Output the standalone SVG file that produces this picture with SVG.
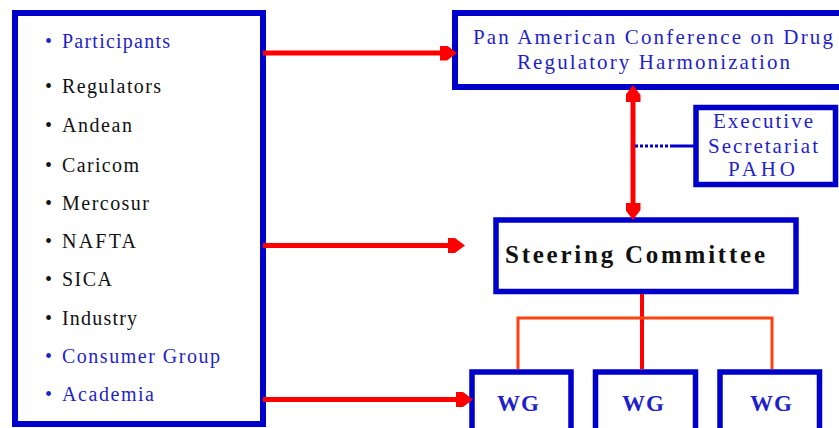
<svg xmlns="http://www.w3.org/2000/svg" width="839" height="428" viewBox="0 0 839 428">
<style>
.box{fill:#ffffff;stroke:#0000cc;stroke-width:6}
.item{font-family:"Liberation Serif","Times New Roman",serif;font-size:20px;fill:#111111}
.blue{fill:#1f1fcc}
.title{font-family:"Liberation Serif","Times New Roman",serif;font-size:21px;fill:#1f1fcc}
.bold{font-family:"Liberation Serif","Times New Roman",serif;font-weight:bold}
.arrow{stroke:#ff0000;stroke-width:5;fill:none}
.tree{stroke:#ff4010;stroke-width:3;fill:none}
</style>
<defs>
<marker id="ah" markerUnits="userSpaceOnUse" markerWidth="17" markerHeight="15" viewBox="0 0 17 15" refX="0" refY="7.5" orient="auto-start-reverse">
<path d="M0,0 L7,0 L17,7.5 L7,15 L0,15 Z" fill="#ff0000"/>
</marker>
</defs>
<rect width="839" height="428" fill="#ffffff"/>
<g id="participants">
<rect class="box" x="15" y="13" width="248" height="411"/>
<text class="item blue" x="45" y="48">•</text><text class="item blue" x="62" y="48" textLength="108" lengthAdjust="spacing">Participants</text>
<text class="item" x="45" y="93">•</text><text class="item" x="62" y="93" textLength="99" lengthAdjust="spacing">Regulators</text>
<text class="item" x="45" y="132">•</text><text class="item" x="62" y="132" textLength="70" lengthAdjust="spacing">Andean</text>
<text class="item" x="45" y="172">•</text><text class="item" x="62" y="172" textLength="77" lengthAdjust="spacing">Caricom</text>
<text class="item" x="45" y="210">•</text><text class="item" x="62" y="210" textLength="87" lengthAdjust="spacing">Mercosur</text>
<text class="item" x="45" y="248">•</text><text class="item" x="62" y="248" textLength="74" lengthAdjust="spacing">NAFTA</text>
<text class="item" x="45" y="286">•</text><text class="item" x="62" y="286" textLength="50" lengthAdjust="spacing">SICA</text>
<text class="item" x="45" y="325">•</text><text class="item" x="62" y="325" textLength="75" lengthAdjust="spacing">Industry</text>
<text class="item blue" x="45" y="363">•</text><text class="item blue" x="62" y="363" textLength="158" lengthAdjust="spacing">Consumer Group</text>
<text class="item blue" x="45" y="401">•</text><text class="item blue" x="62" y="401" textLength="92" lengthAdjust="spacing">Academia</text>
</g>
<g id="conference">
<rect class="box" x="455" y="13" width="390" height="74"/>
<text class="title" x="473" y="44" textLength="360" lengthAdjust="spacing">Pan American Conference on Drug</text>
<text class="title" x="517" y="69" textLength="273" lengthAdjust="spacing">Regulatory Harmonization</text>
</g>
<g id="secretariat">
<rect class="box" x="696" y="107.5" width="139.5" height="77" style="stroke-width:5.5"/>
<text class="title" x="713" y="128" textLength="100" lengthAdjust="spacing">Executive</text>
<text class="title" x="708" y="153" textLength="110" lengthAdjust="spacing">Secretariat</text>
<text class="title" x="728" y="176" textLength="67" lengthAdjust="spacing">PAHO</text>
</g>
<g id="steering">
<rect class="box" x="496" y="220" width="300" height="71.5" style="stroke-width:5.5"/>
<text class="bold" x="505" y="263" font-size="25" fill="#111111" textLength="260" lengthAdjust="spacing">Steering Committee</text>
</g>
<g id="wg1">
<rect class="box" x="472" y="372" width="99" height="70" style="stroke-width:5.5"/>
<text class="bold" x="497" y="411" font-size="23" fill="#1f1fcc" textLength="42" lengthAdjust="spacing">WG</text>
</g>
<g id="wg2">
<rect class="box" x="595.5" y="372" width="100" height="70" style="stroke-width:5.5"/>
<text class="bold" x="622" y="411" font-size="23" fill="#1f1fcc" textLength="42" lengthAdjust="spacing">WG</text>
</g>
<g id="wg3">
<rect class="box" x="720" y="372" width="99.5" height="70" style="stroke-width:5.5"/>
<text class="bold" x="750" y="411" font-size="23" fill="#1f1fcc" textLength="42" lengthAdjust="spacing">WG</text>
</g>
<g id="connectors">
<line class="arrow" x1="263" y1="53" x2="440" y2="53" marker-end="url(#ah)"/>
<line class="arrow" x1="263" y1="245.5" x2="448" y2="245.5" marker-end="url(#ah)"/>
<line class="arrow" x1="263" y1="399.5" x2="456" y2="399.5" marker-end="url(#ah)"/>
<line class="arrow" x1="633" y1="102" x2="633" y2="203" marker-start="url(#ah)" marker-end="url(#ah)"/>
<line x1="635" y1="146" x2="670" y2="146" stroke="#0000cc" stroke-width="3" stroke-dasharray="3 2"/>
<line x1="670" y1="146" x2="694" y2="146" stroke="#0000cc" stroke-width="3"/>
<line x1="642" y1="294" x2="642" y2="369" stroke="#ff0000" stroke-width="4"/>
<polyline class="tree" points="518,369 518,318 772,318 772,369"/>
</g>
</svg>
